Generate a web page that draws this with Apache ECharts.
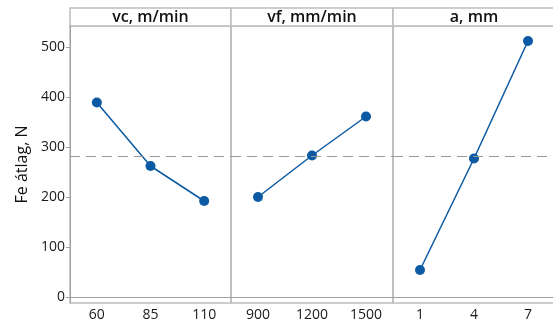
<!DOCTYPE html>
<html>
<head>
<meta charset="utf-8">
<script src="https://cdn.jsdelivr.net/npm/echarts@6/dist/echarts.min.js"></script>
<style>
  html, body { margin: 0; padding: 0; background: #fff; }
  #chart { width: 553px; height: 323px; }
</style>
</head>
<body>
<div id="chart"></div>
<script>
// faktorok és szintek
var panelTitles = ['vc, m/min', 'vf, mm/min', 'a, mm']
var vcLevels = ['60', '85', '110']
var vfLevels = ['900', '1200', '1500']
var aLevels = ['1', '4', '7']
// átlagos Fe értékek (N)
var vcMeans = [389, 262, 192]
var vfMeans = [200, 283, 361]
var aMeans = [54, 277, 512]
var grandMean = 281
var yTicks = [0, 100, 200, 300, 400, 500]

var myChart = echarts.init(document.getElementById('chart'))

var levels = [vcLevels, vfLevels, aLevels]
var means = [vcMeans, vfMeans, aMeans]
var lefts = [70, 231, 393]
var widths = [161, 162, 162]
var blue = '#0b5aa3'
var gray = '#bdbdbd'

var grids = [], xAxes = [], yAxes = [], series = [], graphics = []
for (var i = 0; i < 3; i++) {
  grids.push({
    left: lefts[i], width: widths[i], top: 26, bottom: 20,
    outerBoundsMode: 'none', containLabel: false,
    show: true, borderColor: gray, borderWidth: 1.5, backgroundColor: 'transparent'
  })
  xAxes.push({
    type: 'category', gridIndex: i, data: levels[i], boundaryGap: true,
    axisLine: { lineStyle: { color: '#a0a0a0' } },
    axisTick: { alignWithLabel: true, length: 3, lineStyle: { color: '#a0a0a0' } },
    axisLabel: { color: '#1a1a1a', fontSize: 14, fontFamily: 'Open Sans', margin: 5 }
  })
  yAxes.push({
    type: 'value', gridIndex: i, min: -12, max: 542,
    name: i === 0 ? 'Fe átlag, N' : '',
    nameLocation: 'middle', nameGap: 40,
    nameTextStyle: { color: '#111', fontSize: 16, fontWeight: 500, fontFamily: 'Open Sans' },
    splitLine: { show: false },
    axisLine: { show: i === 0, lineStyle: { color: '#a0a0a0' } },
    axisTick: { show: i === 0, length: 4, customValues: yTicks, lineStyle: { color: '#a0a0a0' } },
    axisLabel: { show: i === 0, customValues: yTicks, color: '#1a1a1a', fontSize: 14, fontFamily: 'Open Sans', margin: 5 }
  })
  series.push({
    type: 'line', xAxisIndex: i, yAxisIndex: i, data: means[i],
    symbol: 'circle', symbolSize: 10,
    itemStyle: { color: blue },
    lineStyle: { color: blue, width: 1.5 },
    markLine: {
      silent: true, symbol: 'none', label: { show: false },
      lineStyle: { color: '#999', type: [10, 6], width: 1 },
      data: [{ yAxis: grandMean }]
    },
    z: 3
  })
  graphics.push({
    type: 'rect',
    shape: { x: lefts[i], y: 8, width: widths[i], height: 18 },
    style: { fill: '#fff', stroke: gray, lineWidth: 1.5 }
  })
  graphics.push({
    type: 'text',
    x: lefts[i] + widths[i] / 2, y: 17,
    style: {
      text: panelTitles[i], fill: '#111', font: '600 16px "Open Sans"',
      textAlign: 'center', textVerticalAlign: 'middle'
    }
  })
}

var option = {
  animation: false,
  grid: grids,
  xAxis: xAxes,
  yAxis: yAxes,
  series: series,
  graphic: graphics
}
myChart.setOption(option)
</script>
</body>
</html>
